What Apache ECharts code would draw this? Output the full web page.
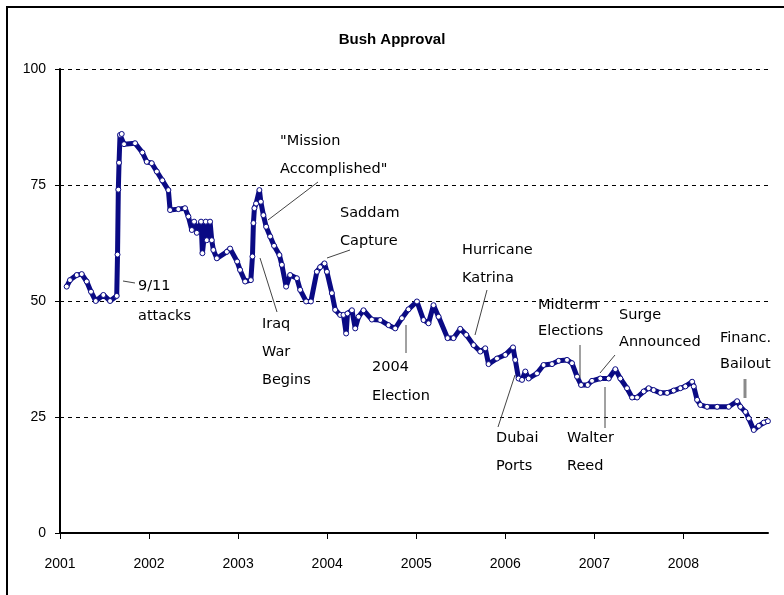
<!DOCTYPE html>
<html>
<head>
<meta charset="utf-8">
<script src="https://cdn.jsdelivr.net/npm/echarts@6/dist/echarts.min.js"></script>
<style>
  html, body { margin: 0; padding: 0; background: #fff; }
  #chart { width: 784px; height: 595px; }
</style>
</head>
<body>
<div id="chart"></div>
<script>
  // 时间用小数年份表示（2001.5 = 2001 年年中）
  const years = [
    2001.075, 2001.112, 2001.188, 2001.244, 2001.300, 2001.348, 2001.401, 2001.487, 2001.562, 2001.637,
    2001.646, 2001.655, 2001.663, 2001.674, 2001.693, 2001.719, 2001.843, 2001.925, 2001.974,
    2002.030, 2002.087, 2002.149, 2002.217, 2002.236, 2002.329, 2002.404, 2002.442, 2002.480, 2002.506,
    2002.536, 2002.584, 2002.599, 2002.637, 2002.648, 2002.685, 2002.704, 2002.722, 2002.761, 2002.873,
    2002.910, 2002.989,
    2003.022, 2003.079, 2003.143, 2003.161, 2003.172, 2003.183, 2003.202, 2003.239, 2003.255, 2003.284,
    2003.315, 2003.360, 2003.404, 2003.464, 2003.491, 2003.539, 2003.584, 2003.660, 2003.697, 2003.764,
    2003.817, 2003.884, 2003.921, 2003.970, 2003.997,
    2004.053, 2004.090, 2004.146, 2004.183, 2004.213, 2004.228, 2004.278, 2004.315, 2004.352, 2004.408,
    2004.502, 2004.596, 2004.689, 2004.764, 2004.839, 2004.913,
    2005.008, 2005.082, 2005.138, 2005.194, 2005.251, 2005.352, 2005.419, 2005.494, 2005.562, 2005.644,
    2005.719, 2005.775, 2005.812, 2005.907,
    2006.000, 2006.087, 2006.112, 2006.149, 2006.188, 2006.225, 2006.262, 2006.356, 2006.430, 2006.525,
    2006.599, 2006.693, 2006.749, 2006.806, 2006.851, 2006.925, 2006.974,
    2007.067, 2007.161, 2007.236, 2007.292, 2007.367, 2007.424, 2007.480, 2007.554, 2007.610, 2007.666,
    2007.742, 2007.817, 2007.891, 2007.966,
    2008.022, 2008.098, 2008.116, 2008.154, 2008.191, 2008.266, 2008.379, 2008.509, 2008.603, 2008.640,
    2008.697, 2008.734, 2008.790, 2008.847, 2008.903, 2008.949
  ];

  const approval = [
    53.1, 54.5, 55.6, 55.8, 54.2, 52.0, 50.0, 51.3, 50.0, 51.1,
    60.0, 74.0, 79.8, 85.8, 86.0, 83.8, 84.0, 82.0, 80.0,
    79.7, 77.9, 76.0, 73.9, 69.6, 69.8, 70.0, 68.2, 65.3, 67.1,
    64.7, 67.1, 60.3, 67.1, 63.1, 67.1, 63.1, 61.0, 59.2, 60.6,
    61.3, 58.5,
    56.7, 54.2, 54.5, 59.6, 66.8, 70.0, 71.0, 73.9, 71.4, 68.5,
    66.0, 63.9, 61.9, 59.9, 57.8, 53.1, 55.6, 54.9, 52.4, 49.9,
    49.9, 56.3, 57.3, 58.1, 56.3,
    51.7, 48.1, 47.0, 47.0, 43.0, 47.3, 48.0, 44.1, 46.6, 48.0,
    46.0, 45.9, 44.8, 44.1, 46.3, 48.2,
    49.9, 45.9, 45.2, 49.1, 46.6, 42.0, 42.0, 44.0, 42.7, 40.5,
    39.1, 39.8, 36.4, 37.6,
    38.4, 40.0, 37.3, 33.3, 33.0, 34.8, 33.3, 34.4, 36.2, 36.4,
    37.1, 37.3, 36.6, 33.7, 31.9, 31.9, 32.8,
    33.3, 33.3, 35.3, 33.3, 31.2, 29.2, 29.2, 30.5, 31.2, 30.8,
    30.2, 30.2, 30.7, 31.2,
    31.6, 32.6, 31.6, 28.7, 27.6, 27.2, 27.2, 27.2, 28.4, 27.2,
    26.1, 24.7, 22.2, 23.1, 23.8, 24.1
  ];

  const yearTicks = [2001, 2002, 2003, 2004, 2005, 2006, 2007, 2008];
  const valueTicks = [0, 25, 50, 75, 100];

  // 事件标注：文字行 + 引线（像素位置）
  const notes = [
    { lines: ["9/11", "attacks"], x: 138, y: 286, gap: 30, lead: [123, 281, 135, 283] },
    { lines: ["\"Mission", "Accomplished\""], x: 280, y: 141, gap: 28, lead: [268, 220, 318, 182] },
    { lines: ["Saddam", "Capture"], x: 340, y: 213, gap: 28, lead: [327, 258, 350, 250] },
    { lines: ["Iraq", "War", "Begins"], x: 262, y: 324, gap: 28, lead: [260, 258, 277, 312] },
    { lines: ["2004", "Election"], x: 372, y: 367, gap: 29, lead: [406, 325, 406, 353] },
    { lines: ["Hurricane", "Katrina"], x: 462, y: 250, gap: 28, lead: [475, 335, 487, 290] },
    { lines: ["Dubai", "Ports"], x: 496, y: 438, gap: 28, lead: [498, 427, 515, 375] },
    { lines: ["Midterm", "Elections"], x: 538, y: 305, gap: 26, lead: [580, 345, 580, 378] },
    { lines: ["Surge", "Announced"], x: 619, y: 315, gap: 27, lead: [600, 373, 615, 355] },
    { lines: ["Walter", "Reed"], x: 567, y: 438, gap: 28, lead: [605, 387, 605, 428] },
    { lines: ["Financ.", "Bailout"], x: 720, y: 338, gap: 26, lead: [745, 379, 745, 398], thick: true }
  ];

  const NAVY = "#0a0a84";
  const FONT = "'Liberation Sans', Arial, sans-serif";

  const graphics = [
    {
      type: "rect",
      shape: { x: 7, y: 7, width: 900, height: 700 },
      style: { fill: "none", stroke: "#000", lineWidth: 2 },
      silent: true
    }
  ];
  notes.forEach((n) => {
    n.lines.forEach((t, i) => {
      graphics.push({
        type: "text",
        x: n.x,
        y: n.y + i * n.gap,
        style: {
          text: t,
          font: "14.5px 'DejaVu Sans', sans-serif",
          fill: "#000",
          textVerticalAlign: "middle"
        },
        z: 10
      });
    });
    const l = n.lead;
    graphics.push({
      type: "line",
      shape: { x1: l[0], y1: l[1], x2: l[2], y2: l[3] },
      style: { stroke: n.thick ? "#8a8a8a" : "#444", lineWidth: n.thick ? 3 : 1 },
      z: 10
    });
  });

  const chart = echarts.init(document.getElementById("chart"), null, { renderer: "canvas" });
  chart.setOption({
    animation: false,
    backgroundColor: "#fff",
    title: {
      text: "Bush Approval",
      left: "center",
      top: 27,
      textStyle: { fontFamily: FONT, fontSize: 15, fontWeight: "bold", color: "#000" }
    },
    grid: { left: 60, right: 16, top: 69, bottom: 62 },
    xAxis: {
      type: "value",
      min: 2001,
      max: 2008.95,
      axisLine: { show: true, lineStyle: { color: "#000", width: 2 } },
      axisTick: { show: true, length: 6, lineStyle: { color: "#000" }, customValues: yearTicks },
      axisLabel: {
        color: "#000",
        fontFamily: FONT,
        fontSize: 14,
        margin: 24,
        customValues: yearTicks,
        formatter: (v) => String(v)
      },
      splitLine: { show: false }
    },
    yAxis: {
      type: "value",
      min: 0,
      max: 100,
      interval: 25,
      axisLine: { show: true, lineStyle: { color: "#000", width: 2 } },
      axisTick: { show: true, length: 5, lineStyle: { color: "#000" } },
      axisLabel: {
        color: "#000",
        fontFamily: FONT,
        fontSize: 14,
        margin: 14,
        customValues: valueTicks
      },
      splitLine: { show: true, lineStyle: { color: "#000", type: [4, 4], width: 1 } }
    },
    series: [
      {
        type: "line",
        data: years.map((y, i) => [y, approval[i]]),
        symbol: "circle",
        symbolSize: 5,
        showAllSymbol: true,
        lineStyle: { color: NAVY, width: 5 },
        itemStyle: { color: "#fff", borderColor: NAVY, borderWidth: 1 },
        clip: false,
        z: 3
      }
    ],
    graphic: graphics
  });
</script>
</body>
</html>
